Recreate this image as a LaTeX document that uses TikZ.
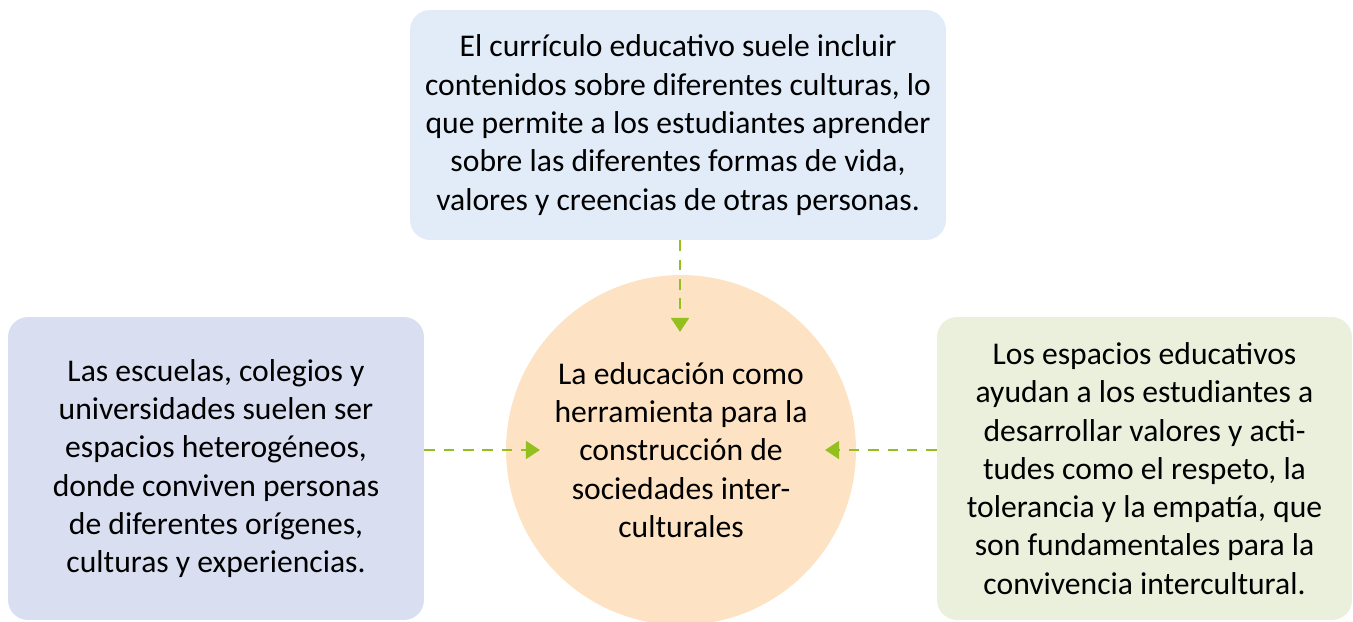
\documentclass[tikz,border=0pt]{standalone}
\usepackage{fontspec}
\setmainfont{Carlito}
\usetikzlibrary{arrows.meta,calc,positioning}
\definecolor{bluefill}{HTML}{E1ECF8}
\definecolor{lavfill}{HTML}{D9DFF1}
\definecolor{olivefill}{HTML}{EBF0DC}
\definecolor{peachfill}{HTML}{FDE3C3}
\definecolor{linkgreen}{HTML}{93C01F}
\tikzset{
  infobox/.style={rectangle, rounded corners=0.4cm, draw=none, align=center, inner sep=0pt,
    font=\fontsize{18}{21.8}\selectfont},
  hub/.style={circle, draw=none, fill=peachfill, minimum size=7cm, inner sep=0pt, align=center,
    font=\fontsize{18}{21.8}\selectfont},
  link/.style={-{Triangle[length=8pt, width=10pt]}, line width=1.7pt, draw=linkgreen,
    dash pattern=on 6pt off 5pt}
}
\begin{document}
\begin{tikzpicture}[x=0.02cm, y=-0.02cm]
  \useasboundingbox (0,0) rectangle (1353,622);
  \node[hub] (edu) at (681,450) {La educación como\\herramienta para la\\construcción de\\sociedades inter-\\culturales};
  \node[infobox, fill=bluefill, minimum width=10.72cm, minimum height=4.6cm] (curr) at (678,125)
    {El currículo educativo suele incluir\\contenidos sobre diferentes culturas, lo\\que permite a los estudiantes aprender\\sobre las diferentes formas de vida,\\valores y creencias de otras personas.};
  \node[infobox, fill=lavfill, minimum width=8.32cm, minimum height=6.06cm] (esc) at (216,468.5)
    {Las escuelas, colegios y\\universidades suelen ser\\espacios heterogéneos,\\donde conviven personas\\de diferentes orígenes,\\culturas y experiencias.};
  \node[infobox, fill=olivefill, minimum width=8.3cm, minimum height=6.06cm] (esp) at (1144.5,468.5)
    {Los espacios educativos\\ayudan a los estudiantes a\\desarrollar valores y acti-\\tudes como el respeto, la\\tolerancia y la empatía, que\\son fundamentales para la\\convivencia intercultural.};

  \coordinate (tipT) at (680,332);
  \coordinate (tipL) at (540,450);
  \coordinate (tipR) at (825,450);
  \draw[link] (curr.south -| tipT) -- (tipT);
  \draw[link] (esc.east |- tipL) -- (tipL);
  \draw[link] (esp.west |- tipR) -- (tipR);
\end{tikzpicture}
\end{document}
